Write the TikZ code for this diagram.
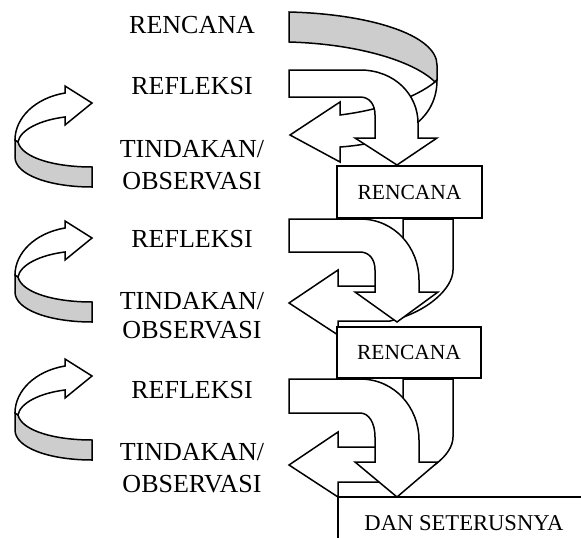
\documentclass[tikz,border=0pt]{standalone}
\usepackage{fontspec}
\setmainfont{Liberation Serif}
\definecolor{bandgray}{RGB}{205,205,205}
\begin{document}
\begin{tikzpicture}[x=1pt,y=-1pt, line width=1.5pt,
  shp/.style={draw=black, fill=white},
  back/.style={draw=black, fill=bandgray},
  lbl/.style={anchor=base, inner sep=0pt, font=\fontsize{26}{30}\selectfont},
  boxnode/.style={draw=black, fill=white, inner sep=0pt, font=\fontsize{21.5}{25}\selectfont}]
\useasboundingbox (0,0) rectangle (581,538);

% ---------- left ribbons ----------
\foreach \dy in {0,135,273}{
  \begin{scope}[shift={(0,\dy)}]
    \path[back] (15,140) -- (15,157) .. controls (15,175) and (50,187) .. (92,187)
      -- (92,167) .. controls (55,167) and (22,158) .. (18,142) -- cycle;
    \path[shp] (15,140) .. controls (15,118) and (35,98) .. (65,93)
      -- (65,86) -- (92,103) -- (65,125) -- (65,117)
      .. controls (40,120) and (20,130) .. (18,142) -- cycle;
  \end{scope}
}

% ---------- labels left ----------
\node[lbl] (l1) at (192,33) {RENCANA};
\node[lbl] (l2) at (192,94) {REFLEKSI};
\node[lbl] (l3) at (192,157) {TINDAKAN/};
\node[lbl] (l4) at (192,189) {OBSERVASI};
\node[lbl] (l5) at (192,247) {REFLEKSI};
\node[lbl] (l6) at (192,309) {TINDAKAN/};
\node[lbl] (l7) at (192,338) {OBSERVASI};
\node[lbl] (l8) at (192,398) {REFLEKSI};
\node[lbl] (l9) at (192,460) {TINDAKAN/};
\node[lbl] (l10) at (192,492) {OBSERVASI};

% ---------- block 1 ----------
\path[back] (289,12) .. controls (370,14) and (437,35) .. (437,65) -- (437,80) -- (435,82)
  .. controls (415,62) and (360,44) .. (289,42) -- cycle;
\path[shp] (290,135) -- (340,102) -- (340,115) .. controls (380,110) and (415,98) .. (435,82)
  -- (437,80) .. controls (437,115) and (410,142) .. (340,147) -- (340,162) -- cycle;
\path[shp] (289,70) -- (360,70) .. controls (395,70) and (418,95) .. (418,123) -- (418,138)
  -- (437,138) -- (397,165) -- (355,138) -- (375,138) -- (375,115)
  .. controls (375,105) and (370,97) .. (360,97) -- (289,97) -- cycle;
\node[boxnode, minimum width=145pt, minimum height=52pt] (r1) at (409.5,192) {RENCANA};

% ---------- block 2 ----------
\path[shp] (289,303) -- (338,270) -- (338,286) -- (385,286)
  .. controls (397,286) and (403,275) .. (403,262) -- (403,219) -- (453,219) -- (453,270)
  .. controls (453,288) and (428,312) .. (390,321) -- (338,321) -- (338,335) -- cycle;
\path[shp] (289,219) -- (360,219) .. controls (395,219) and (419,248) .. (419,280) -- (419,292)
  -- (438,292) -- (397,322) -- (355,292) -- (375,292) -- (375,270)
  .. controls (375,259) and (369,252) .. (360,252) -- (289,252) -- cycle;
\node[boxnode, minimum width=144pt, minimum height=51pt] (r2) at (409,352.5) {RENCANA};

% ---------- block 3 ----------
\path[shp] (289,465) -- (338,432) -- (338,447) -- (385,447)
  .. controls (397,447) and (403,436) .. (403,422) -- (403,379) -- (453,379) -- (453,437)
  .. controls (453,455) and (428,476) .. (390,482) -- (338,482) -- (338,497) -- cycle;
\path[shp] (289,379) -- (360,379) .. controls (395,379) and (419,408) .. (419,440) -- (419,462)
  -- (438,462) -- (397,497) -- (355,462) -- (375,462) -- (375,437)
  .. controls (375,423) and (369,413) .. (360,413) -- (289,413) -- cycle;

% ---------- DAN SETERUSNYA ----------
\coordinate (d0) at (338,545);
\coordinate (d1) at (338,497);
\coordinate (d2) at (590,497);
\draw (d0) -- (d1) -- (d2);
\node[anchor=base, inner sep=0pt, font=\fontsize{22.6}{26}\selectfont] (dan) at (464,530) {DAN SETERUSNYA};
\end{tikzpicture}
\end{document}
